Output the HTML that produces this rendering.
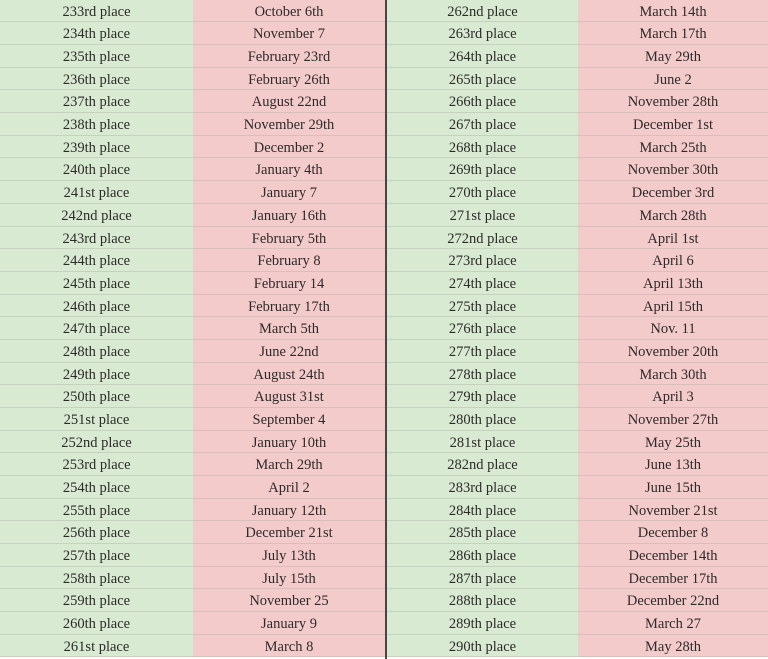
<!DOCTYPE html>
<html><head><meta charset="utf-8"><style>
body{margin:0;width:768px;height:659px;overflow:hidden;background:#fff;font-family:"Liberation Serif",serif;}
#t{position:absolute;left:0;top:0;width:768px;height:659px;}
.row{position:absolute;left:0;width:768px;height:22.7px;}
.c{position:absolute;top:0;height:22.7px;line-height:24.5px;text-align:center;font-size:14.5px;color:#2e2a2a;box-sizing:border-box;border-bottom:1px solid rgba(180,180,170,0.45);}
.g{background:#d8ead2;}
.p{background:#f4cbcb;}
#div{position:absolute;left:385px;top:0;width:2px;height:659px;background:#4a4444;}
</style></head><body>
<div id="t"></div>
<div id="div"></div>
<script>
const leftPlaces=["233rd","234th","235th","236th","237th","238th","239th","240th","241st","242nd","243rd","244th","245th","246th","247th","248th","249th","250th","251st","252nd","253rd","254th","255th","256th","257th","258th","259th","260th","261st"];
const leftDates=["October 6th","November 7","February 23rd","February 26th","August 22nd","November 29th","December 2","January 4th","January 7","January 16th","February 5th","February 8","February 14","February 17th","March 5th","June 22nd","August 24th","August 31st","September 4","January 10th","March 29th","April 2","January 12th","December 21st","July 13th","July 15th","November 25","January 9","March 8"];
const rightPlaces=["262nd","263rd","264th","265th","266th","267th","268th","269th","270th","271st","272nd","273rd","274th","275th","276th","277th","278th","279th","280th","281st","282nd","283rd","284th","285th","286th","287th","288th","289th","290th"];
const rightDates=["March 14th","March 17th","May 29th","June 2","November 28th","December 1st","March 25th","November 30th","December 3rd","March 28th","April 1st","April 6","April 13th","April 15th","Nov. 11","November 20th","March 30th","April 3","November 27th","May 25th","June 13th","June 15th","November 21st","December 8","December 14th","December 17th","December 22nd","March 27","May 28th"];
const cols=[[0,193,'g'],[193,192,'p'],[387,191,'g'],[578,190,'p']];
const t=document.getElementById('t');
for(let i=0;i<leftPlaces.length;i++){
  const r=document.createElement('div');
  r.className='row';
  r.style.top=(i*22.68-0.3)+'px';
  
  
  const vals=[leftPlaces[i]+' place',leftDates[i],rightPlaces[i]+' place',rightDates[i]];
  for(let j=0;j<4;j++){
    const c=document.createElement('div');
    c.className='c '+cols[j][2];
    c.style.left=cols[j][0]+'px';
    c.style.width=cols[j][1]+'px';
    c.textContent=vals[j];
    
    
    r.appendChild(c);
  }
  t.appendChild(r);
}
</script>
</body></html>
